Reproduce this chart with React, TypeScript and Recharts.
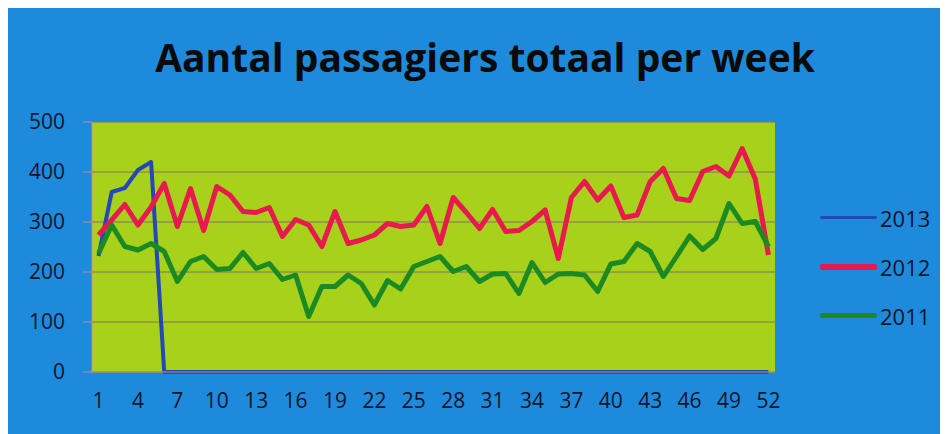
import React from 'react';
import { LineChart, Line, XAxis, YAxis, CartesianGrid, Legend } from 'recharts';

const weeks = [1,2,3,4,5,6,7,8,9,10,11,12,13,14,15,16,17,18,19,20,21,22,23,24,25,26,27,28,29,30,31,32,33,34,35,36,37,38,39,40,41,42,43,44,45,46,47,48,49,50,51,52];
const xTickLabels = [1,4,7,10,13,16,19,22,25,28,31,34,37,40,43,46,49,52];
const weekBoundaries = [0.5,1.5,2.5,3.5,4.5,5.5,6.5,7.5,8.5,9.5,10.5,11.5,12.5,13.5,14.5,15.5,16.5,17.5,18.5,19.5,20.5,21.5,22.5,23.5,24.5,25.5,26.5,27.5,28.5,29.5,30.5,31.5,32.5,33.5,34.5,35.5,36.5,37.5,38.5,39.5,40.5,41.5,42.5,43.5,44.5,45.5,46.5,47.5,48.5,49.5,50.5,51.5,52.5];
const yTicks = [0,100,200,300,400,500];
const legendOrder = ['y2013', 'y2012', 'y2011'];

const s2013 = [232,360,368,404,420,0,0,0,0,0,0,0,0,0,0,0,0,0,0,0,0,0,0,0,0,0,0,0,0,0,0,0,0,0,0,0,0,0,0,0,0,0,0,0,0,0,0,0,0,0,0,0];
const s2012 = [274,304,335,294,330,377,291,367,283,371,354,321,319,329,271,305,294,251,321,257,264,274,297,291,294,331,257,349,319,287,325,281,283,301,324,227,349,381,344,372,309,314,381,407,347,343,401,411,392,447,386,234];
const s2011 = [237,294,251,244,257,241,181,221,231,205,207,239,207,217,185,194,111,171,171,194,177,134,183,166,211,221,231,201,211,181,196,197,157,219,179,196,197,194,161,216,221,257,241,191,231,272,245,267,337,297,301,251];

const data = weeks.map((w, i) => ({ week: w, y2013: s2013[i], y2012: s2012[i], y2011: s2011[i] }));

const BG = '#1E8ADB';
const PLOT = '#A7D11B';
const GRID = '#8C6E62';
const AXIS = '#C98C8C';
const TEXT = '#12142A';
const FONT = '"Open Sans", Lato, sans-serif';

const seriesStyle: Record<string, { color: string; width: number; legendH: number }> = {
  y2013: { color: '#2449B5', width: 4, legendH: 3 },
  y2012: { color: '#E8194F', width: 5, legendH: 6 },
  y2011: { color: '#1C8A22', width: 5, legendH: 5 },
};

const LegendContent = (props: any) => {
  const payload = [...(props.payload || [])].sort(
    (a: any, b: any) => legendOrder.indexOf(a.dataKey) - legendOrder.indexOf(b.dataKey)
  );
  return (
    <div style={{ fontFamily: FONT }}>
      {payload.map((p: any) => {
        const st = seriesStyle[p.dataKey];
        return (
          <div key={p.dataKey} style={{ display: 'flex', alignItems: 'center', height: 49 }}>
            <div style={{ width: 57, height: st.legendH, background: st.color, borderRadius: 2 }} />
            <span style={{ fontSize: 22, color: TEXT, marginLeft: 3 }}>{p.value}</span>
          </div>
        );
      })}
    </div>
  );
};

export default function App() {
  return (
    <div style={{ position: 'relative', width: 940, height: 426, background: BG }}>
      <div
        style={{
          position: 'absolute',
          left: 77,
          width: 800,
          top: 29,
          textAlign: 'center',
          fontFamily: FONT,
          fontWeight: 700,
          fontSize: 39,
          lineHeight: '40px',
          color: '#0A0A0A',
          zIndex: 2,
          whiteSpace: 'nowrap',
        }}
      >
        Aantal passagiers totaal per week
      </div>
      <LineChart width={940} height={426} data={data} margin={{ top: 114, right: 173, bottom: 0, left: 0 }}>
        <CartesianGrid xAxisId="main" vertical={false} fill={PLOT} stroke={GRID} strokeWidth={1} horizontalValues={yTicks} />
        <XAxis
          xAxisId="minor"
          type="number"
          dataKey="week"
          domain={[0.5, 52.5]}
          ticks={weekBoundaries}
          interval={0}
          height={0}
          axisLine={false}
          tickLine={{ stroke: AXIS }}
          tickSize={6}
          tick={() => <g />}
          allowDataOverflow
        />
        <XAxis
          xAxisId="main"
          type="number"
          dataKey="week"
          domain={[0.5, 52.5]}
          ticks={xTickLabels}
          interval={0}
          height={62}
          axisLine={{ stroke: AXIS }}
          tickLine={false}
          tickSize={0}
          tickMargin={21}
          tick={{ fill: TEXT, fontSize: 21, fontFamily: FONT }}
          allowDataOverflow
        />
        <YAxis
          width={84}
          domain={[0, 500]}
          ticks={yTicks}
          interval={0}
          axisLine={{ stroke: AXIS }}
          tickLine={{ stroke: AXIS }}
          tickSize={9}
          tickMargin={18}
          tick={{ fill: TEXT, fontSize: 21, fontFamily: FONT }}
        />
        <Legend
          layout="horizontal"
          align="center"
          verticalAlign="middle"
          content={LegendContent}
          wrapperStyle={{ left: 812, top: 185, width: 128, height: 'auto' }}
        />
        <Line xAxisId="main" dataKey="y2013" name="2013" type="linear" stroke={seriesStyle.y2013.color} strokeWidth={4} dot={false} strokeLinejoin="round" isAnimationActive={false} />
        <Line xAxisId="main" dataKey="y2012" name="2012" type="linear" stroke={seriesStyle.y2012.color} strokeWidth={5} dot={false} strokeLinejoin="round" isAnimationActive={false} />
        <Line xAxisId="main" dataKey="y2011" name="2011" type="linear" stroke={seriesStyle.y2011.color} strokeWidth={5} dot={false} strokeLinejoin="round" isAnimationActive={false} />
      </LineChart>
    </div>
  );
}
